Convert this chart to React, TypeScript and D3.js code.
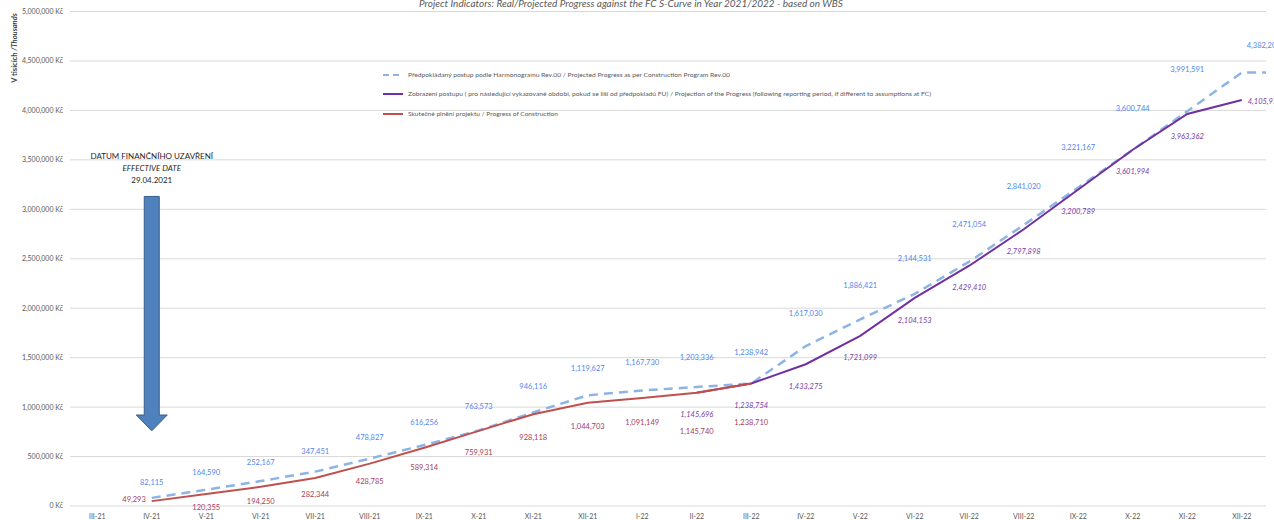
import React from 'react';
import * as d3 from 'd3';

const months = ['III-21', 'IV-21', 'V-21', 'VI-21', 'VII-21', 'VIII-21', 'IX-21', 'X-21', 'XI-21', 'XII-21',
  'I-22', 'II-22', 'III-22', 'IV-22', 'V-22', 'VI-22', 'VII-22', 'VIII-22', 'IX-22', 'X-22', 'XI-22', 'XII-22'];

// planned S-curve (Harmonogram Rev.00), from IV-21
const plannedMonths = months.slice(1);
const planned = [82115, 164590, 252167, 347451, 478827, 616256, 763573, 946116, 1119627, 1167730, 1203336,
  1238942, 1617030, 1886421, 2144531, 2471054, 2841020, 3221167, 3600744, 3991591, 4382200];

// real progress, IV-21 .. III-22
const actualMonths = months.slice(1, 13);
const actual = [49293, 120355, 194250, 282344, 428785, 589314, 759931, 928118, 1044703, 1091149, 1145740, 1238710];

// projection, II-22 .. XII-22
const projMonths = months.slice(11);
const projection = [1145696, 1238754, 1433275, 1721099, 2104153, 2429410, 2797898, 3200789, 3601994, 3963362, 4105970];

const yTicks = [0, 500000, 1000000, 1500000, 2000000, 2500000, 3000000, 3500000, 4000000, 4500000, 5000000];

const legendItems = [
  'Předpokládaný postup podle Harmonogramu Rev.00 / Projected Progress as per Construction Program Rev.00',
  'Zobrazení postupu ( pro následující vykazované období, pokud se liší od předpokladů FU) / Projection of the Progress (following reporting period, if different to assumptions at FC)',
  'Skutečné plnění projektu / Progress of Construction',
];

const W = 1274;
const H = 520;
const left = 70;
const right = 1269;
const font = 'Lato, "Open Sans", sans-serif';

const BLUE = '#8db4e2';
const RED = '#c0504d';
const PURPLE = '#7030a0';

export default function App() {
  const x = d3.scaleBand().domain(months).range([left, right]).padding(0);
  const y = d3.scaleLinear().domain([0, 5000000]).range([506, 11.5]);
  const cx = (m: string) => (x(m) as number) + x.bandwidth() / 2;
  const fmt = d3.format(',');

  const line = d3.line<[number, number]>().x(d => d[0]).y(d => d[1]);

  const plannedPts: [number, number][] = plannedMonths.map((m, i) => [cx(m), y(planned[i])]);
  plannedPts.push([right - 3, y(planned[planned.length - 1])]);
  const actualPts: [number, number][] = actualMonths.map((m, i) => [cx(m), y(actual[i])]);
  const projPts: [number, number][] = projMonths.map((m, i) => [cx(m), y(projection[i])]);

  // arrow for effective date
  const ax = cx('IV-21');
  const aTop = y(3130000);
  const aNeck = y(920000);
  const aTip = y(760000);
  const arrow = `M${ax - 7.5},${aTop} L${ax + 7.5},${aTop} L${ax + 7.5},${aNeck} L${ax + 15.5},${aNeck} L${ax},${aTip} L${ax - 15.5},${aNeck} L${ax - 7.5},${aNeck} Z`;

  const legendY = [75, 94, 114];
  const legendLen = [322, 523, 150];

  return (
    <svg width={W} height={H} style={{ position: 'absolute', left: 0, top: 0, background: '#fff' }} fontFamily={font}>
      <text x={631} y={7} textAnchor="middle" fontSize={10} fontStyle="italic" fill="#595959">
        Project Indicators: Real/Projected Progress against the FC S-Curve in Year 2021/2022 - based on WBS
      </text>

      {yTicks.map(t => (
        <g key={t}>
          <line x1={left} x2={right - 3} y1={y(t)} y2={y(t)} stroke="#d9d9d9" strokeWidth={1} />
          <text x={63} y={y(t)} dy="0.35em" textAnchor="end" fontSize={7} fill="#595959">
            {fmt(t)} Kč
          </text>
        </g>
      ))}

      <text transform="translate(17,48) rotate(-90)" textAnchor="middle" fontSize={7.5} fontWeight="bold" fill="#404040">
        V tisících <tspan fontStyle="italic">/Thousands</tspan>
      </text>

      {months.map(m => (
        <text key={m} x={cx(m)} y={519} textAnchor="middle" fontSize={7} fill="#595959">{m}</text>
      ))}

      <path d={arrow} fill="#4f81bd" stroke="#385d8a" strokeWidth={1} />
      <g textAnchor="middle" fontSize={8} fill="#262626">
        <text x={ax} y={159}>DATUM FINANČNÍHO UZAVŘENÍ</text>
        <text x={ax} y={171} fontStyle="italic">EFFECTIVE DATE</text>
        <text x={ax} y={183}>29.04.2021</text>
      </g>

      <path d={line(plannedPts) as string} fill="none" stroke={BLUE} strokeWidth={2.5} strokeDasharray="9,6" />
      <path d={line(projPts) as string} fill="none" stroke={PURPLE} strokeWidth={2} />
      <path d={line(actualPts) as string} fill="none" stroke={RED} strokeWidth={2} />

      {plannedMonths.map((m, i) => {
        const last = i === planned.length - 1;
        return (
          <text key={'p' + m} x={last ? cx(m) + 5 : cx(m)} y={y(planned[i]) - (last ? 27 : Math.min(16 + 1.4 * i, 42))}
            dy="0.35em" textAnchor={last ? 'start' : 'middle'} fontSize={7.5} fill="#4f86f0">
            {fmt(planned[i])}
          </text>
        );
      })}

      {actualMonths.map((m, i) => {
        const first = i === 0;
        const shared = projMonths.includes(m);
        const off = first ? -2 : shared ? 39 : Math.min(11 + 1.8 * i, 24);
        return (
          <text key={'a' + m} x={first ? cx(m) - 6 : cx(m)} y={y(actual[i]) + off}
            dy="0.35em" textAnchor={first ? 'end' : 'middle'} fontSize={7.5} fill="#a3405e">
            {fmt(actual[i])}
          </text>
        );
      })}

      {projMonths.map((m, i) => {
        const last = i === projection.length - 1;
        return (
          <text key={'j' + m} x={last ? cx(m) + 6 : cx(m)} y={y(projection[i]) + (last ? 1 : 22)}
            dy="0.35em" textAnchor={last ? 'start' : 'middle'} fontSize={7.5} fontStyle="italic" fill="#7a3aa8">
            {fmt(projection[i])}
          </text>
        );
      })}

      {legendItems.map((t, i) => (
        <g key={t}>
          <line x1={383} x2={403} y1={legendY[i]} y2={legendY[i]}
            stroke={[BLUE, PURPLE, RED][i]} strokeWidth={2}
            strokeDasharray={i === 0 ? '6,4' : undefined} />
          <text x={408} y={legendY[i]} dy="0.35em" fontSize={6} fill="#595959"
            textLength={legendLen[i]} lengthAdjust="spacingAndGlyphs">{t}</text>
        </g>
      ))}
    </svg>
  );
}
